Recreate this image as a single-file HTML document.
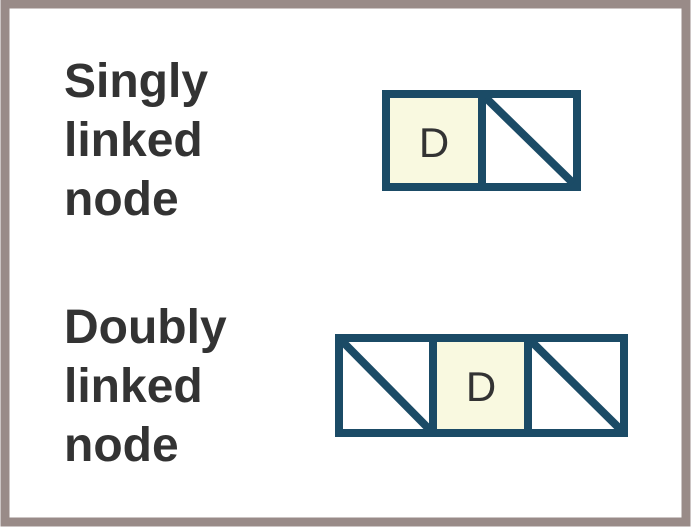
<!DOCTYPE html>
<html><head><meta charset="utf-8"><style>
html,body{margin:0;padding:0;background:#fff}
svg{display:block}
</style></head><body>
<svg width="691" height="527" viewBox="0 0 691 527" font-family="Liberation Sans, Arial, sans-serif">
<rect x="5" y="4" width="681" height="518" fill="#fff" stroke="#998b88" stroke-width="9"/>
<g fill="#333" font-weight="bold" font-size="48">
<text x="64" y="97">Singly</text><text x="64" y="156">linked</text><text x="64" y="215">node</text>
</g>
<g fill="#333" font-weight="bold" font-size="48">
<text x="64" y="343">Doubly</text><text x="64" y="402">linked</text><text x="64" y="461">node</text>
</g>
<g stroke="#1b4b66" stroke-width="8">
<rect x="386" y="94" width="96" height="93" fill="#f9f9e0"/>
<rect x="482" y="94" width="95" height="93" fill="#fff"/>
<line x1="486" y1="98" x2="573" y2="183"/>
</g>
<text x="434" y="157" text-anchor="middle" font-size="42" fill="#333">D</text>
<g stroke="#1b4b66" stroke-width="8">
<rect x="339" y="338" width="94" height="95" fill="#fff"/>
<rect x="433" y="338" width="95" height="95" fill="#f9f9e0"/>
<rect x="528" y="338" width="96" height="95" fill="#fff"/>
<line x1="343" y1="342" x2="429" y2="429"/>
<line x1="532" y1="342" x2="620" y2="429"/>
</g>
<text x="481" y="401" text-anchor="middle" font-size="42" fill="#333">D</text>
</svg>
</body></html>
